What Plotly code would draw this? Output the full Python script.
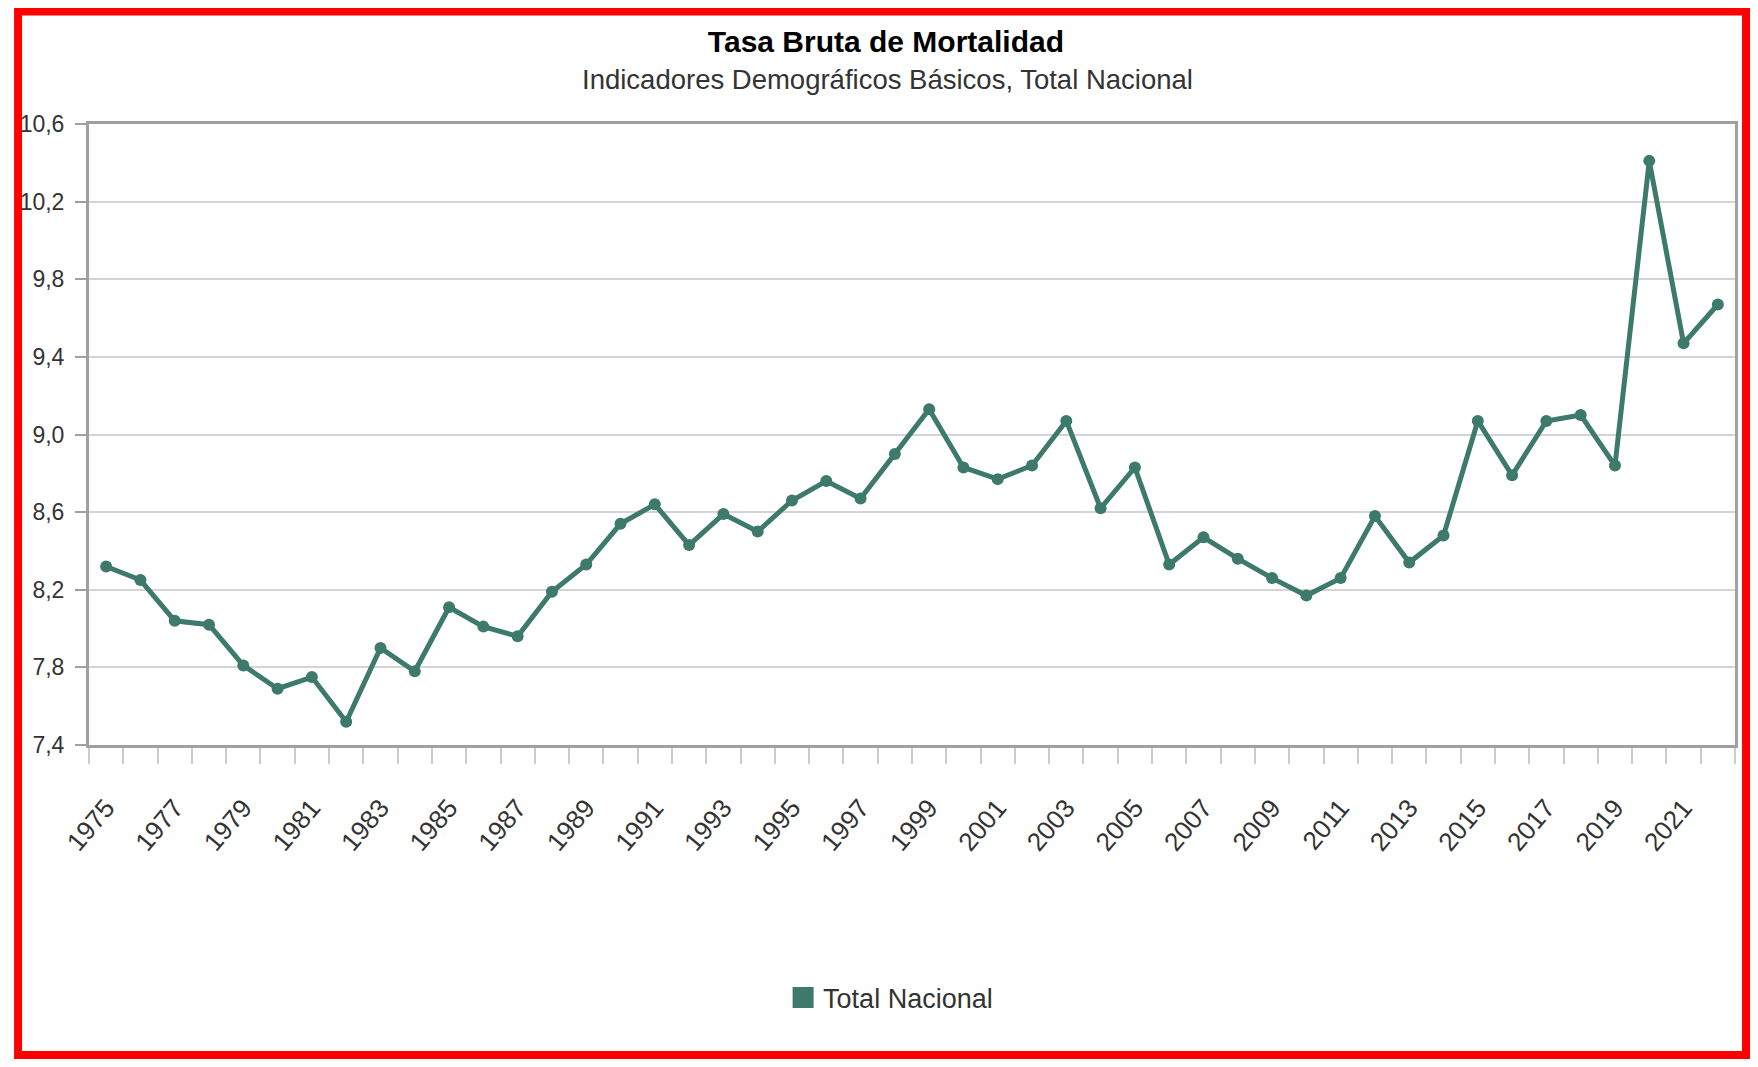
import plotly.graph_objects as go

years = [1975, 1976, 1977, 1978, 1979, 1980, 1981, 1982, 1983, 1984, 1985, 1986,
         1987, 1988, 1989, 1990, 1991, 1992, 1993, 1994, 1995, 1996, 1997, 1998,
         1999, 2000, 2001, 2002, 2003, 2004, 2005, 2006, 2007, 2008, 2009, 2010,
         2011, 2012, 2013, 2014, 2015, 2016, 2017, 2018, 2019, 2020, 2021, 2022]

tasa = [8.32, 8.25, 8.04, 8.02, 7.81, 7.69, 7.75, 7.52, 7.90, 7.78, 8.11, 8.01,
        7.96, 8.19, 8.33, 8.54, 8.64, 8.43, 8.59, 8.50, 8.66, 8.76, 8.67, 8.90,
        9.13, 8.83, 8.77, 8.84, 9.07, 8.62, 8.83, 8.33, 8.47, 8.36, 8.26, 8.17,
        8.26, 8.58, 8.34, 8.48, 9.07, 8.79, 9.07, 9.10, 8.84, 10.41, 9.47, 9.67]

x_tick_years = [1975, 1977, 1979, 1981, 1983, 1985, 1987, 1989, 1991, 1993, 1995,
                1997, 1999, 2001, 2003, 2005, 2007, 2009, 2011, 2013, 2015, 2017,
                2019, 2021]
x_tick_labels = [str(y) for y in x_tick_years]

series_name = "Total Nacional"
title_text = "Tasa Bruta de Mortalidad"
subtitle_text = "Indicadores Demográficos Básicos, Total Nacional"

LINE_COLOR = "#3d7a6c"
FONT = "Liberation Sans, Arial, sans-serif"

fig = go.Figure()
fig.add_trace(go.Scatter(
    x=years, y=tasa, mode="lines+markers", name=series_name,
    line=dict(color=LINE_COLOR, width=5),
    marker=dict(color=LINE_COLOR, size=12),
    showlegend=False,
))
# legend swatch (square)
fig.add_trace(go.Scatter(
    x=[None], y=[None], mode="markers", name=series_name,
    marker=dict(color=LINE_COLOR, symbol="square", size=16,
                line=dict(color=LINE_COLOR, width=5)),
    showlegend=True,
))

fig.update_layout(
    width=1742, height=1051,
    margin=dict(l=81, r=15, t=116, b=314),
    paper_bgcolor="white", plot_bgcolor="white",
    separators=",.",
    font=dict(family=FONT, color="#333333"),
    title=dict(text="<b>" + title_text + "</b>", x=0.504, xanchor="center",
               y=1 - 33 / 1051, yanchor="middle", yref="container",
               font=dict(size=30, color="#000000", family=FONT)),
    showlegend=True,
    legend=dict(orientation="h", x=0.487, xanchor="center", y=-0.4074,
                yanchor="middle", font=dict(size=27, color="#333333"),
                bgcolor="rgba(0,0,0,0)"),
    annotations=[dict(text=subtitle_text, xref="paper", yref="paper",
                      x=0.4854, y=1.0709, xanchor="center", yanchor="middle",
                      showarrow=False, font=dict(size=27.5, color="#333333"))],
    shapes=[dict(type="rect", xref="paper", yref="paper",
                 x0=-0.0431, x1=1.0067, y0=-0.4992, y1=1.1812,
                 line=dict(color="#ff0000", width=8), layer="above")],
)

fig.update_xaxes(
    type="linear", range=[1974.5, 2022.5],
    tickmode="array", tickvals=x_tick_years, ticktext=x_tick_labels,
    tickangle=-50, tickfont=dict(size=26, color="#333333"),
    ticks="outside", ticklen=16, tickcolor="rgba(0,0,0,0)",
    ticklabelstandoff=18,
    minor=dict(ticks="outside", tick0=1974.5, dtick=1, ticklen=16,
               tickcolor="#cccccc", tickwidth=2, showgrid=False),
    showgrid=False, zeroline=False,
    showline=True, linecolor="#a0a0a0", linewidth=3, mirror=True,
)
fig.update_yaxes(
    range=[7.4, 10.6], tick0=7.4, dtick=0.4, tickformat=".1f",
    tickfont=dict(size=23, color="#333333"),
    ticks="outside", ticklen=11, tickcolor="#a0a0a0", tickwidth=2,
    ticklabelstandoff=6,
    showgrid=True, gridcolor="#d4d4d4", gridwidth=2, zeroline=False,
    showline=True, linecolor="#a0a0a0", linewidth=3, mirror=True,
)

fig.write_html("out.html")
